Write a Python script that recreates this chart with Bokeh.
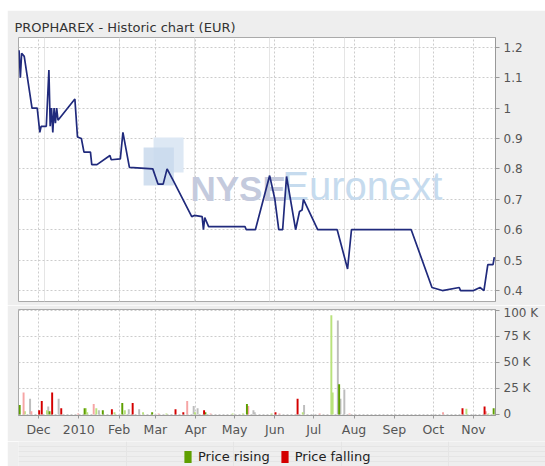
import datetime as dt
from bokeh.plotting import figure
from bokeh.models import (Range1d, FixedTicker, Grid, CustomJSTickFormatter,
                          ColumnDataSource, Label, BoxAnnotation, Legend, LegendItem, Spacer)
from bokeh.layouts import column, row
from bokeh.embed import file_html
from bokeh.resources import INLINE

# ---------------- data ----------------
title_text = "PROPHAREX - Historic chart  (EUR)"

price_dates = ["2009-11-16", "2009-11-17", "2009-11-18", "2009-11-20", "2009-11-26", "2009-11-30",
               "2009-12-02", "2009-12-03", "2009-12-07", "2009-12-09", "2009-12-10", "2009-12-11",
               "2009-12-12", "2009-12-13", "2009-12-14", "2009-12-15", "2009-12-16", "2009-12-29",
               "2009-12-31", "2010-01-03", "2010-01-05", "2010-01-10", "2010-01-11", "2010-01-15",
               "2010-01-25", "2010-01-26", "2010-02-02", "2010-02-04", "2010-02-09", "2010-02-27",
               "2010-03-03", "2010-03-07", "2010-03-10", "2010-03-15", "2010-03-29", "2010-03-31",
               "2010-04-06", "2010-04-07", "2010-04-08", "2010-04-11", "2010-05-09", "2010-05-10",
               "2010-05-17", "2010-05-28", "2010-06-01", "2010-06-04", "2010-06-07", "2010-06-10",
               "2010-06-17", "2010-06-20", "2010-06-22", "2010-06-23", "2010-07-04", "2010-07-19",
               "2010-07-27", "2010-07-30", "2010-09-14", "2010-09-30", "2010-10-08", "2010-10-21",
               "2010-10-22", "2010-11-01", "2010-11-06", "2010-11-09", "2010-11-12", "2010-11-16",
               "2010-11-17"]
price_values = [1.19, 1.10, 1.18, 1.17, 1.00, 1.00,
                0.92, 0.94, 0.94, 1.125, 0.94, 1.00,
                0.92, 1.00, 0.95, 1.00, 0.96, 1.03,
                0.905, 0.90, 0.855, 0.855, 0.814, 0.814,
                0.844, 0.83, 0.833, 0.92, 0.805, 0.80,
                0.75, 0.75, 0.80, 0.76, 0.643, 0.647,
                0.643, 0.60, 0.64, 0.61, 0.61, 0.60,
                0.60, 0.778, 0.70, 0.60, 0.60, 0.775,
                0.60, 0.66, 0.665, 0.70, 0.60, 0.60,
                0.471, 0.60, 0.60, 0.41, 0.40, 0.41,
                0.40, 0.40, 0.41, 0.40, 0.485, 0.485,
                0.51]

vol_dates = ["2009-11-16", "2009-11-19", "2009-11-20", "2009-11-24", "2009-11-25", "2009-12-01",
             "2009-12-03", "2009-12-07", "2009-12-08", "2009-12-09", "2009-12-11", "2009-12-16",
             "2009-12-18", "2009-12-31", "2010-01-05", "2010-01-06", "2010-01-07", "2010-01-12",
             "2010-01-14", "2010-01-16", "2010-01-19", "2010-01-26", "2010-01-28", "2010-02-03",
             "2010-02-05", "2010-02-08", "2010-02-11", "2010-02-16", "2010-02-19", "2010-02-26",
             "2010-03-03", "2010-03-09", "2010-03-16", "2010-03-22", "2010-03-25", "2010-03-30",
             "2010-03-31", "2010-04-02", "2010-04-07", "2010-04-08", "2010-04-12", "2010-04-29",
             "2010-05-07", "2010-05-10", "2010-05-11", "2010-05-15", "2010-05-16", "2010-05-29",
             "2010-06-01", "2010-06-04", "2010-06-18", "2010-06-22", "2010-06-23", "2010-07-05",
             "2010-07-14", "2010-07-15", "2010-07-19", "2010-07-20", "2010-07-21", "2010-07-24",
             "2010-07-28", "2010-10-08", "2010-10-23", "2010-10-26", "2010-11-09", "2010-11-10",
             "2010-11-12", "2010-11-16"]
vol_values = [9000, 21000, 3000, 15000, 3000, 4000,
              13000, 4000, 7500, 3000, 21000, 15000,
              6000, 1000, 6000, 6000, 2000, 10000,
              6000, 4000, 4000, 5000, 2000, 11000,
              4000, 5000, 11000, 5000, 2000, 2000,
              1000, 1000, 5000, 2000, 13000, 8000,
              2000, 6000, 4000, 2000, 1000, 1000,
              1000, 10000, 8000, 4000, 2000, 1000,
              2000, 1000, 15000, 2000, 9000, 1000,
              95000, 21000, 90000, 29000, 15000, 24000,
              1000, 2000, 6000, 5500, 7500, 3000,
              1000, 6000]
vol_kind = ["up", "down_l", "up_l", "flat", "down_l", "down",
            "down", "up_l", "flat", "up", "down", "flat",
            "down", "down_l", "up", "up_l", "up_l", "down_l",
            "up_l", "flat", "up", "down", "up_l", "up",
            "up_l", "flat", "down", "flat", "up_l", "up",
            "down_l", "up_l", "down", "down", "down_l", "flat",
            "up_l", "flat", "down", "up", "down_l", "up_l",
            "up_l", "up", "down_l", "flat", "flat", "up_l",
            "down", "down_l", "down", "up_l", "flat", "down_l",
            "up_l", "up_l", "flat", "up", "flat", "flat",
            "down_l", "down_l", "down", "up_l", "down", "down_l",
            "up_l", "up"]

month_ticks = ["2009-12-01", "2010-01-01", "2010-02-01", "2010-03-01", "2010-04-01", "2010-05-01",
               "2010-06-01", "2010-07-01", "2010-08-01", "2010-09-01", "2010-10-01", "2010-11-01"]
month_labels = ["Dec", "2010", "Feb", "Mar", "Apr", "May", "Jun", "Jul", "Aug", "Sep", "Oct", "Nov"]

price_ticks = [0.4, 0.5, 0.6, 0.7, 0.8, 0.9, 1.0, 1.1, 1.2]
vol_ticks = [0, 25000, 50000, 75000, 100000]

legend_labels = ["Price rising", "Price falling"]

# ---------------- helpers ----------------
EPOCH = dt.datetime(1970, 1, 1)


def ms(s):
    return (dt.datetime.fromisoformat(s) - EPOCH).total_seconds() * 1000.0


DAY = 86400000.0
FONT = "DejaVu Sans"
BG = "#eeeeee"
GRID = "#cccccc"
AXIS = "#999999"
LABEL = "#555555"
UP = "#5e9f00"
DOWN = "#d40000"

tick_ms = [ms(s) for s in month_ticks]
x_range = Range1d(ms("2009-11-15T14:00"), ms("2010-11-17T22:00"))

x_fmt = CustomJSTickFormatter(args=dict(tick_vals=tick_ms, month_names=month_labels), code="""
const i = tick_vals.indexOf(tick);
return i >= 0 ? month_names[i] : "";
""")

# ---------------- price figure ----------------
p1 = figure(frame_width=477, frame_height=264, x_range=x_range, y_range=Range1d(0.364, 1.232),
            output_backend="svg", toolbar_location=None,
            x_axis_location=None, y_axis_location="right",
            min_border_left=11, min_border_right=50, min_border_top=27, min_border_bottom=4,
            background_fill_color="white", border_fill_color=BG,
            outline_line_color="#aaaaaa", title=title_text)
p1.title.text_font = FONT
p1.title.text_font_size = "13px"
p1.title.text_font_style = "normal"
p1.title.text_color = "#333333"
p1.title.offset = -4
p1.title.standoff = 5

p1.yaxis.ticker = FixedTicker(ticks=price_ticks)
p1.yaxis.formatter = CustomJSTickFormatter(code="return (Math.round(tick*10)/10).toString();")
p1.yaxis.axis_line_color = AXIS
p1.yaxis.major_tick_line_color = AXIS
p1.yaxis.major_tick_out = 4
p1.yaxis.major_tick_in = 0
p1.yaxis.minor_tick_line_color = None
p1.yaxis.major_label_text_font = FONT
p1.yaxis.major_label_text_font_size = "12px"
p1.yaxis.major_label_text_color = LABEL
p1.yaxis.major_label_standoff = 4

p1.ygrid.grid_line_color = GRID
p1.ygrid.grid_line_dash = "2 2"
p1.add_layout(Grid(dimension=0, ticker=FixedTicker(ticks=tick_ms),
                   grid_line_color=GRID, grid_line_dash="2 2"))

# watermark (decoration)
p1.add_layout(BoxAnnotation(left=ms("2010-02-27T14:00"), right=ms("2010-03-22T17:00"),
                            bottom=0.788, top=0.903, fill_color="#dde8f4", fill_alpha=1.0,
                            line_alpha=0, level="underlay"))
p1.add_layout(BoxAnnotation(left=ms("2010-02-19T22:00"), right=ms("2010-03-15T05:00"),
                            bottom=0.745, top=0.870, fill_color="#c9d9ec", fill_alpha=0.85,
                            line_alpha=0, level="underlay"))
p1.add_layout(Label(x=ms("2010-03-28"), y=0.673, text="NYSE", text_font="Liberation Sans",
                    text_font_size="35px", text_font_style="bold", text_color="#c4cadd",
                    level="underlay"))
p1.add_layout(Label(x=ms("2010-06-06T17:00"), y=0.673, text="Euronext", text_font="Liberation Sans",
                    text_font_size="40px", text_color="#c6dbee", level="underlay"))

price_src = ColumnDataSource(dict(x=[ms(d) for d in price_dates], y=price_values))
p1.line("x", "y", source=price_src, line_color="#202a7c", line_width=1.7)

# ---------------- volume figure ----------------
p2 = figure(frame_width=477, frame_height=106, x_range=x_range, y_range=Range1d(-1000, 100500),
            output_backend="svg", toolbar_location=None, y_axis_location="right",
            min_border_left=11, min_border_right=50, min_border_top=4, min_border_bottom=26,
            background_fill_color="white", border_fill_color=BG,
            outline_line_color="#aaaaaa")

p2.yaxis.ticker = FixedTicker(ticks=vol_ticks)
p2.yaxis.formatter = CustomJSTickFormatter(code="return tick == 0 ? '0' : (tick/1000) + ' K';")
p2.yaxis.axis_line_color = AXIS
p2.yaxis.major_tick_line_color = AXIS
p2.yaxis.major_tick_out = 4
p2.yaxis.major_tick_in = 0
p2.yaxis.minor_tick_line_color = None
p2.yaxis.major_label_text_font = FONT
p2.yaxis.major_label_text_font_size = "12px"
p2.yaxis.major_label_text_color = LABEL
p2.yaxis.major_label_standoff = 4

p2.xaxis.ticker = FixedTicker(ticks=tick_ms)
p2.xaxis.formatter = x_fmt
p2.xaxis.axis_line_color = AXIS
p2.xaxis.major_tick_line_color = AXIS
p2.xaxis.major_tick_out = 3
p2.xaxis.major_tick_in = 0
p2.xaxis.minor_tick_line_color = None
p2.xaxis.major_label_text_font = FONT
p2.xaxis.major_label_text_font_size = "12.5px"
p2.xaxis.major_label_text_color = LABEL
p2.xaxis.major_label_standoff = 3

p2.xgrid.grid_line_color = GRID
p2.xgrid.grid_line_dash = "2 2"
p2.ygrid.grid_line_color = GRID
p2.ygrid.grid_line_dash = "2 2"

colors = {"flat": "#bdbdbd", "up_l": "#b9e27c", "down_l": "#f6a5a5", "up": UP, "down": DOWN}
for kind in ["flat", "up_l", "down_l", "up", "down"]:
    idx = [i for i, k in enumerate(vol_kind) if k == kind]
    src = ColumnDataSource(dict(x=[ms(vol_dates[i]) + DAY / 2 for i in idx],
                                top=[vol_values[i] for i in idx]))
    p2.vbar(x="x", top="top", bottom=0, width=DAY * 1.5, source=src,
            fill_color=colors[kind], line_alpha=0)

# ---------------- legend strip ----------------
p3 = figure(frame_width=538, frame_height=25, output_backend="svg", toolbar_location=None,
            x_axis_location=None, y_axis_location=None,
            x_range=Range1d(0, 1), y_range=Range1d(0, 1),
            min_border_left=0, min_border_right=0, min_border_top=0, min_border_bottom=0,
            background_fill_color=BG, border_fill_color=BG, outline_line_color=None)
proxy = ColumnDataSource(dict(x=[float("nan")], top=[float("nan")]))
r_up = p3.vbar(x="x", top="top", width=0.01, source=proxy, fill_color=UP, line_alpha=0)
r_down = p3.vbar(x="x", top="top", width=0.01, source=proxy, fill_color=DOWN, line_alpha=0)
legend = Legend(items=[LegendItem(label=legend_labels[0], renderers=[r_up]),
                       LegendItem(label=legend_labels[1], renderers=[r_down])],
                orientation="horizontal", location=(174, 0),
                glyph_width=9, glyph_height=15, label_standoff=6, spacing=10,
                padding=2, margin=0, background_fill_alpha=0, border_line_alpha=0,
                label_text_font=FONT, label_text_font_size="13px", label_text_color="#222222")
p3.add_layout(legend)

layout = row(Spacer(width=7, height=466),
             column(Spacer(width=538, height=10), p1, p2, p3, spacing=0),
             spacing=0)

open("out.html", "w").write(file_html(layout, INLINE))
